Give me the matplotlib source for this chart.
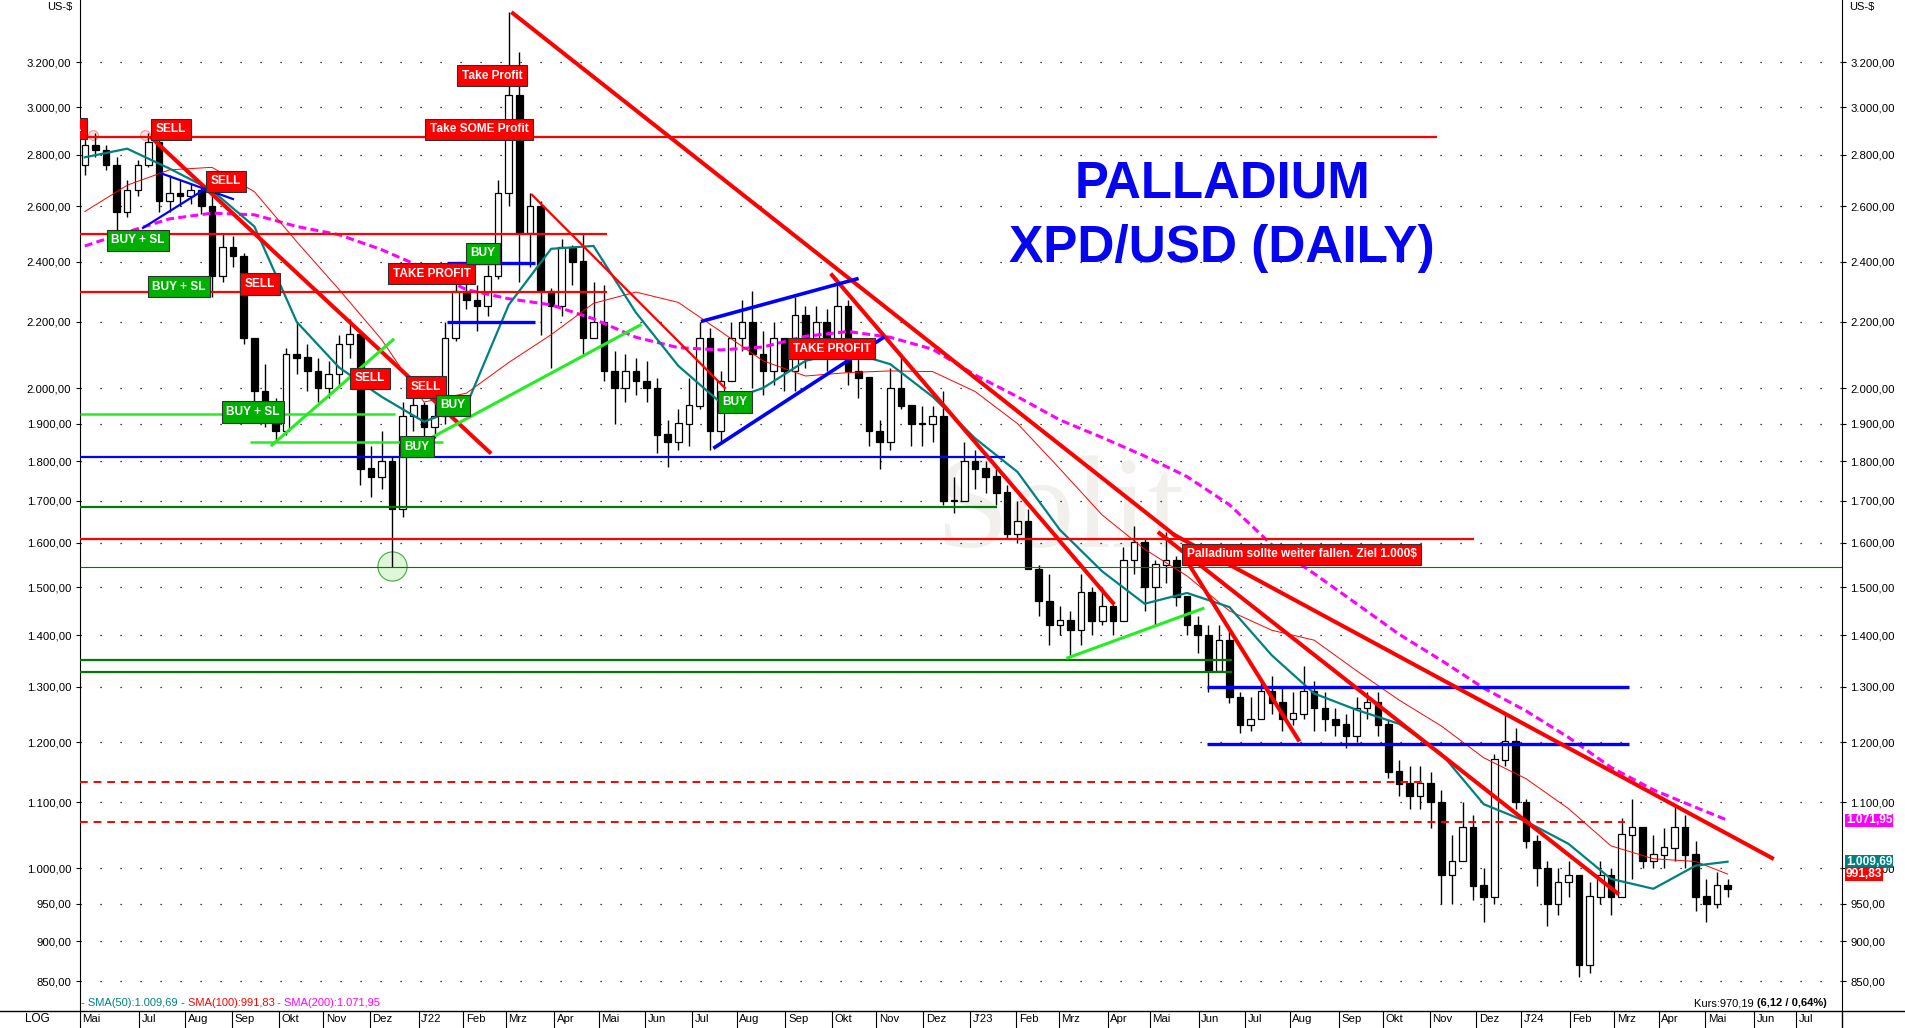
import numpy as np
import pandas as pd
import matplotlib
matplotlib.use('Agg')
import matplotlib.pyplot as plt
import matplotlib.transforms as mtransforms
from matplotlib.lines import Line2D
from matplotlib.ticker import FixedLocator, FuncFormatter, NullLocator

plt.rcParams['font.family'] = ['Liberation Sans', 'DejaVu Sans']

START = '2021-05-24'  # monday of the first weekly candle

# weekly candles (week 0 = week of 24 May 2021)
first_open = 2760
week_high = [2880, 2890, 2840, 2790, 2700, 2780, 2890, 2870, 2720, 2700,
             2690, 2680, 2640, 2500, 2490, 2430, 2150, 2070, 1970, 2120,
             2200, 2130, 2090, 2080, 2160, 2210, 2170, 1840, 1880, 1810,
             1960, 1990, 1960, 1970, 2200, 2340, 2370, 2320, 2390, 2700,
             3440, 3250, 2650, 2620, 2310, 2480, 2460, 2500, 2330, 2320,
             2110, 2100, 2090, 2080, 2030, 1910, 1940, 2030, 2200, 2180,
             2050, 2200, 2270, 2300, 2170, 2200, 2140, 2280, 2250, 2250,
             2240, 2330, 2270, 2110, 1990, 1910, 2060, 2100, 1950, 1950,
             1950, 1990, 1760, 1850, 1830, 1800, 1780, 1740, 1700, 1680,
             1550, 1530, 1460, 1450, 1530, 1500, 1500, 1470, 1590, 1640,
             1610, 1560, 1625, 1570, 1480, 1440, 1420, 1420, 1410, 1290,
             1280, 1310, 1320, 1300, 1290, 1340, 1310, 1290, 1260, 1250,
             1280, 1290, 1290, 1240, 1170, 1160, 1160, 1150, 1120, 1050,
             1100, 1080, 1000, 1180, 1250, 1225, 1105, 1050, 1010, 1000,
             1010, 990, 980, 1010, 1000, 1075, 1105, 1060, 1050, 1060,
             1095, 1080, 1040, 985, 995, 985]
week_low = [2720, 2790, 2740, 2500, 2560, 2640, 2750, 2580, 2580, 2600,
            2610, 2570, 2280, 2330, 2380, 2130, 1960, 1890, 1850, 1870,
            2040, 1990, 1960, 1970, 2010, 2090, 1740, 1710, 1730, 1545,
            1660, 1880, 1840, 1860, 1900, 2140, 2240, 2170, 2220, 2340,
            2600, 2330, 2380, 2160, 2060, 2220, 2320, 2100, 2150, 2020,
            1900, 1960, 1980, 1960, 1820, 1785, 1830, 1840, 1940, 1830,
            1850, 2020, 2110, 2000, 1980, 2010, 1990, 1990, 2060, 2100,
            2050, 2090, 2010, 1970, 1840, 1780, 1830, 1940, 1840, 1840,
            1850, 1690, 1670, 1700, 1730, 1720, 1690, 1610, 1600, 1540,
            1440, 1380, 1400, 1360, 1380, 1400, 1420, 1400, 1430, 1530,
            1450, 1420, 1510, 1460, 1400, 1365, 1290, 1340, 1270, 1215,
            1220, 1240, 1250, 1220, 1230, 1240, 1220, 1220, 1210, 1190,
            1200, 1240, 1210, 1140, 1110, 1090, 1090, 1060, 950, 950,
            1020, 955, 925, 950, 1160, 1090, 1030, 975, 920, 935,
            960, 855, 860, 950, 935, 960, 985, 1000, 1000, 1000,
            1010, 1000, 940, 925, 945, 960]
week_close = [2840, 2820, 2760, 2580, 2660, 2760, 2850, 2620, 2650, 2640,
              2660, 2600, 2350, 2450, 2420, 2150, 1990, 1930, 1880, 2100,
              2090, 2050, 2000, 2040, 2130, 2160, 1780, 1760, 1800, 1680,
              1920, 1950, 1890, 1920, 2150, 2300, 2270, 2250, 2350, 2650,
              3050, 2500, 2600, 2300, 2250, 2450, 2400, 2150, 2200, 2050,
              2000, 2050, 2020, 2000, 1870, 1850, 1900, 1950, 2150, 1880,
              2020, 2150, 2200, 2100, 2050, 2150, 2050, 2220, 2150, 2200,
              2100, 2250, 2050, 2030, 1880, 1850, 2000, 1950, 1900, 1900,
              1920, 1700, 1700, 1800, 1780, 1760, 1720, 1620, 1650, 1540,
              1470, 1420, 1430, 1410, 1490, 1430, 1460, 1430, 1560, 1600,
              1500, 1550, 1560, 1480, 1420, 1400, 1330, 1390, 1280, 1230,
              1240, 1290, 1270, 1240, 1250, 1290, 1260, 1240, 1230, 1210,
              1260, 1270, 1230, 1150, 1130, 1110, 1130, 1100, 990, 1010,
              1060, 975, 960, 1170, 1200, 1100, 1040, 1000, 950, 980,
              990, 870, 960, 990, 960, 1050, 1060, 1010, 1020, 1030,
              1060, 1020, 960, 950, 975, 970.19]

# moving averages every 4 weeks
sma_weeks = [0, 4, 8, 12, 16, 20, 24, 28, 32, 36, 40, 44, 48, 52, 56, 60, 64, 68, 72, 76,
             80, 84, 88, 92, 96, 100, 104, 108, 112, 116, 120, 124, 128, 132, 136, 140, 144, 148, 152, 155]
sma50 = [2790, 2825, 2745, 2660, 2525, 2200, 2060, 1975, 1905, 1950, 2255, 2445, 2455, 2230, 2065, 1958,
         2000, 2080, 2108, 2070, 1975, 1860, 1772, 1630, 1535, 1465, 1488, 1458, 1360, 1287, 1257, 1232,
         1180, 1097, 1070, 1036, 985, 971, 1004, 1009.69]
sma100 = [2580, 2680, 2740, 2750, 2655, 2470, 2305, 2145, 1960, 1985, 2075, 2160, 2260, 2297, 2263, 2170,
          2080, 2035, 2045, 2050, 2048, 1990, 1900, 1780, 1665, 1585, 1525, 1450, 1410, 1390, 1330, 1275,
          1228, 1173, 1138, 1090, 1033, 1014, 1010, 991.83]
sma200 = [2455, 2505, 2553, 2574, 2568, 2525, 2495, 2442, 2378, 2305, 2275, 2255, 2210, 2152, 2120, 2113,
          2122, 2155, 2170, 2152, 2115, 2038, 1975, 1910, 1862, 1813, 1760, 1690, 1595, 1530, 1465, 1402,
          1350, 1297, 1255, 1208, 1157, 1120, 1092, 1071.95]

y_ticks = [850, 900, 950, 1000, 1100, 1200, 1300, 1400, 1500, 1600, 1700, 1800, 1900, 2000,
           2200, 2400, 2600, 2800, 3000, 3200]
month_labels = ['Jul', 'Aug', 'Sep', 'Okt', 'Nov', 'Dez',
                "J'22", 'Feb', 'Mrz', 'Apr', 'Mai', 'Jun', 'Jul', 'Aug', 'Sep', 'Okt', 'Nov', 'Dez',
                "J'23", 'Feb', 'Mrz', 'Apr', 'Mai', 'Jun', 'Jul', 'Aug', 'Sep', 'Okt', 'Nov', 'Dez',
                "J'24", 'Feb', 'Mrz', 'Apr', 'Mai', 'Jun', 'Jul']

# drawn analysis: (price, from week, to week)
red_levels = [(2874, 0, 128.1), (2498, 0, 49.8), (2298, 0, 49.8), (1608, 0, 131.6)]
blue_levels = [(2395, 34.7, 43.0), (2200, 34.7, 43.0), (1300, 106.4, 146.2), (1197, 106.4, 146.2)]
blue_long = [(1810, 0, 87.3)]
lime_levels = [(1927, 0, 29.8), (1850, 16.1, 34.3)]
green_levels = [(1685, 0, 86.6), (1350, 0, 108.7), (1328, 0, 108.7)]
green_thin = [(1545, 0, 166.3)]
dashed_levels = [(1132, 0, 126.7), (1069, 0, 145.8)]

red_trends = [((6.84, 2868), (38.7, 1823)), ((40.9, 3434), (103.3, 1618)),
              ((103.3, 1618), (159.7, 1015)), ((71.0, 2354), (97.5, 1467)),
              ((101.9, 1622), (145.1, 965)), ((104.8, 1546), (115.0, 1204))]
red_thin_trends = [((42.7, 2643), (60.9, 2000))]
blue_trends = [((7.59, 2728), (14.48, 2627)), ((5.99, 2520), (11.84, 2665))]
blue_channel = [((58.8, 2203), (73.35, 2341)), ((59.95, 1836), (75.8, 2150))]
lime_trends = [((18.16, 1842), (29.58, 2144)), ((31.65, 1838), (52.9, 2190)),
               ((93.25, 1355), (106.0, 1455))]

labels = [('SELL', -1.18, 2910, 'sell'),
          ('SELL', 8.63, 2906, 'sell'),
          ('SELL', 13.82, 2696, 'sell'),
          ('BUY + SL', 5.52, 2476, 'buy'),
          ('BUY + SL', 9.39, 2314, 'buy'),
          ('SELL', 17.03, 2324, 'sell'),
          ('TAKE PROFIT', 33.25, 2358, 'sell'),
          ('BUY', 38.07, 2430, 'buy'),
          ('Take Profit', 38.92, 3138, 'sell'),
          ('Take SOME Profit', 37.69, 2906, 'sell'),
          ('BUY + SL', 16.37, 1932, 'buy'),
          ('SELL', 27.41, 2029, 'sell'),
          ('SELL', 32.69, 2003, 'sell'),
          ('BUY', 31.84, 1838, 'buy'),
          ('BUY', 35.24, 1951, 'buy'),
          ('BUY', 61.84, 1960, 'buy'),
          ('TAKE PROFIT', 70.99, 2116, 'sell'),
          ('Palladium sollte weiter fallen. Ziel 1.000$', 115.33, 1573, 'sell')]

last_values = [(1071.95, '#ff00ff'), (1009.69, '#008080'), (991.83, '#ff0000')]


def de_num(v):
    s = f'{v:,.2f}'
    return s.replace(',', 'X').replace('.', ',').replace('X', '.')


def wk(d):
    return np.busday_count(START, np.datetime64(d, 'D')) / 5.0


W, H = 1905, 1028
fig = plt.figure(figsize=(W / 100, H / 100), dpi=100)
ax = fig.add_axes([79.5 / W, 17 / H, (1842 - 79.5) / W, 1011 / H])
ax.set_yscale('log')
ax.set_ylim(814, 3501)
ax.set_xlim(0, 166.3)
ax.patch.set_visible(False)

# watermark
ax.text(1060 / W, 1 - 515 / H, 'Solit', transform=fig.transFigure, fontsize=95,
        family='Liberation Serif', color='#f2f0ec', ha='center', va='center', zorder=0.5)

# grid + y axis
ax.yaxis.set_major_locator(FixedLocator(y_ticks))
ax.yaxis.set_minor_locator(NullLocator())
ax.yaxis.set_major_formatter(FuncFormatter(lambda v, p: de_num(v)))
ax.grid(axis='y', linestyle=(0, (1, 15)), color='black', lw=0.9, zorder=1)
ax.tick_params(axis='y', which='major', length=3, width=0.8, labelsize=8.2, pad=3,
               left=True, right=True, labelleft=True, labelright=True)
ax.set_xticks([])
ax.spines['top'].set_visible(False)
ax.spines['bottom'].set_visible(False)

# candles
close = np.array(week_close, float)
high = np.array(week_high, float)
low = np.array(week_low, float)
opens = np.concatenate([[first_open], close[:-1]])
xc = np.arange(len(close)) + 0.5
ax.vlines(xc, low, high, color='black', lw=1.0, zorder=3)
up = close >= opens
lo = np.minimum(opens, close)
hi = np.maximum(opens, close) + 1
ax.bar(xc[up], hi[up] - lo[up], bottom=lo[up], width=0.62, color='white',
       edgecolor='black', lw=0.9, zorder=3.1)
ax.bar(xc[~up], hi[~up] - lo[~up], bottom=lo[~up], width=0.62, color='black',
       edgecolor='black', lw=0.9, zorder=3.1)

# moving averages
sx = np.array(sma_weeks) + 0.5
ax.plot(sx, sma200, color='#ff00ff', lw=2.2, ls=(0, (2.6, 1.4)), zorder=4)
ax.plot(sx, sma100, color='#ff0000', lw=0.7, zorder=4)
ax.plot(sx, sma50, color='#008080', lw=1.6, zorder=4)

# horizontal levels
for levels, col, lw, ls in [(red_levels, '#ff0000', 1.6, '-'), (blue_levels, '#0000ff', 2.4, '-'),
                            (blue_long, '#0000ff', 1.6, '-'), (lime_levels, '#22ee22', 1.8, '-'),
                            (green_levels, '#007a00', 1.6, '-'), (green_thin, '#007a00', 0.8, '-'),
                            (dashed_levels, '#ff0000', 1.4, (0, (4, 3)))]:
    for p, w0, w1 in levels:
        ax.plot([w0, w1], [p, p], color=col, lw=lw, ls=ls, zorder=5, solid_capstyle='butt')

# trend lines
for lines, col, lw in [(red_trends, '#ff0000', 2.9), (red_thin_trends, '#ff0000', 1.6),
                       (blue_trends, '#0000ff', 1.6), (blue_channel, '#0000ff', 2.6),
                       (lime_trends, '#22ee22', 2.2)]:
    for (w0, p0), (w1, p1) in lines:
        ax.plot([w0, w1], [p0, p1], color=col, lw=lw, zorder=5)

# marker circles
ax.plot([1.27, 6.18], [2880, 2880], 'o', ms=7, mfc='#ffe0e0', mec='#ff9090', mew=0.8, zorder=2.9)
ax.plot([29.5], [1547], 'o', ms=21, mfc='#dff6d8', mec='#44aa44', mew=0.8, zorder=2.9)

# signal labels
for txt, w, p, kind in labels:
    fc = '#ff0000' if kind == 'sell' else '#00b000'
    ax.text(w, p, txt, ha='center', va='center', fontsize=8.6, fontweight='bold', color='white',
            bbox=dict(boxstyle='square,pad=0.38', fc=fc, ec='#303030', lw=0.8), zorder=8, clip_on=True)

# last values on the right axis
trans = mtransforms.blended_transform_factory(ax.transAxes, ax.transData)
for v, col in last_values:
    ax.text(1.0022, v, de_num(v), transform=trans, ha='left', va='center', color='white',
            fontsize=8.6, fontweight='bold',
            bbox=dict(boxstyle='square,pad=0.05', fc=col, ec='none'), clip_on=False, zorder=10)

# title
fig.text(1222 / W, 1 - 198 / H, 'PALLADIUM', ha='center', va='baseline', fontsize=36.6,
         fontweight='bold', color='#0505f0')
fig.text(1222 / W, 1 - 262 / H, 'XPD/USD (DAILY)', ha='center', va='baseline', fontsize=37,
         fontweight='bold', color='#0505f0')

# x axis: month ticks in the strip below the chart
month_starts = pd.date_range('2021-07-01', '2024-07-01', freq='MS')
tick_pos = [0.0] + [wk(d.date()) for d in month_starts]
tick_lab = ['Mai'] + month_labels
xt = ax.get_xaxis_transform()
strip = 17 / 1011
ax.vlines(tick_pos, -strip, 0, transform=xt, color='black', lw=0.8, clip_on=False)
for p, lab in zip(tick_pos, tick_lab):
    ax.text(p + 0.25, -strip / 2, lab, transform=xt, ha='left', va='center', fontsize=8.2, clip_on=False)
fig.add_artist(Line2D([0, 1], [17 / H, 17 / H], transform=fig.transFigure, color='black', lw=1))
fig.add_artist(Line2D([1842 / W, 1842 / W], [0, 17 / H], transform=fig.transFigure, color='black', lw=1))
fig.text(37 / W, 8.5 / H, 'LOG', ha='center', va='center', fontsize=8.5)

fig.text(72 / W, 1 - 7 / H, 'US-$', ha='right', va='center', fontsize=8)
fig.text(1849 / W, 1 - 7 / H, 'US-$', ha='left', va='center', fontsize=8)

# indicator legend and last price
leg_y = 1 - 1006 / H
t = fig.text(81 / W, leg_y, '- SMA(50):1.009,69', color='#008080', fontsize=8, va='baseline')
t = ax.annotate(' - SMA(100):991,83', xy=(1, 0), xycoords=t, color='#ff0000', fontsize=8, va='bottom')
ax.annotate(' - SMA(200):1.071,95', xy=(1, 0), xycoords=t, color='#ff00ff', fontsize=8, va='bottom')
t = fig.text(1827 / W, leg_y, '(6,12 / 0,64%)', fontsize=8, fontweight='bold', ha='right', va='baseline')
ax.annotate('Kurs:970,19 ', xy=(0, 0), xycoords=t, fontsize=8, ha='right', va='bottom')

fig.savefig('out.png', dpi=100)
